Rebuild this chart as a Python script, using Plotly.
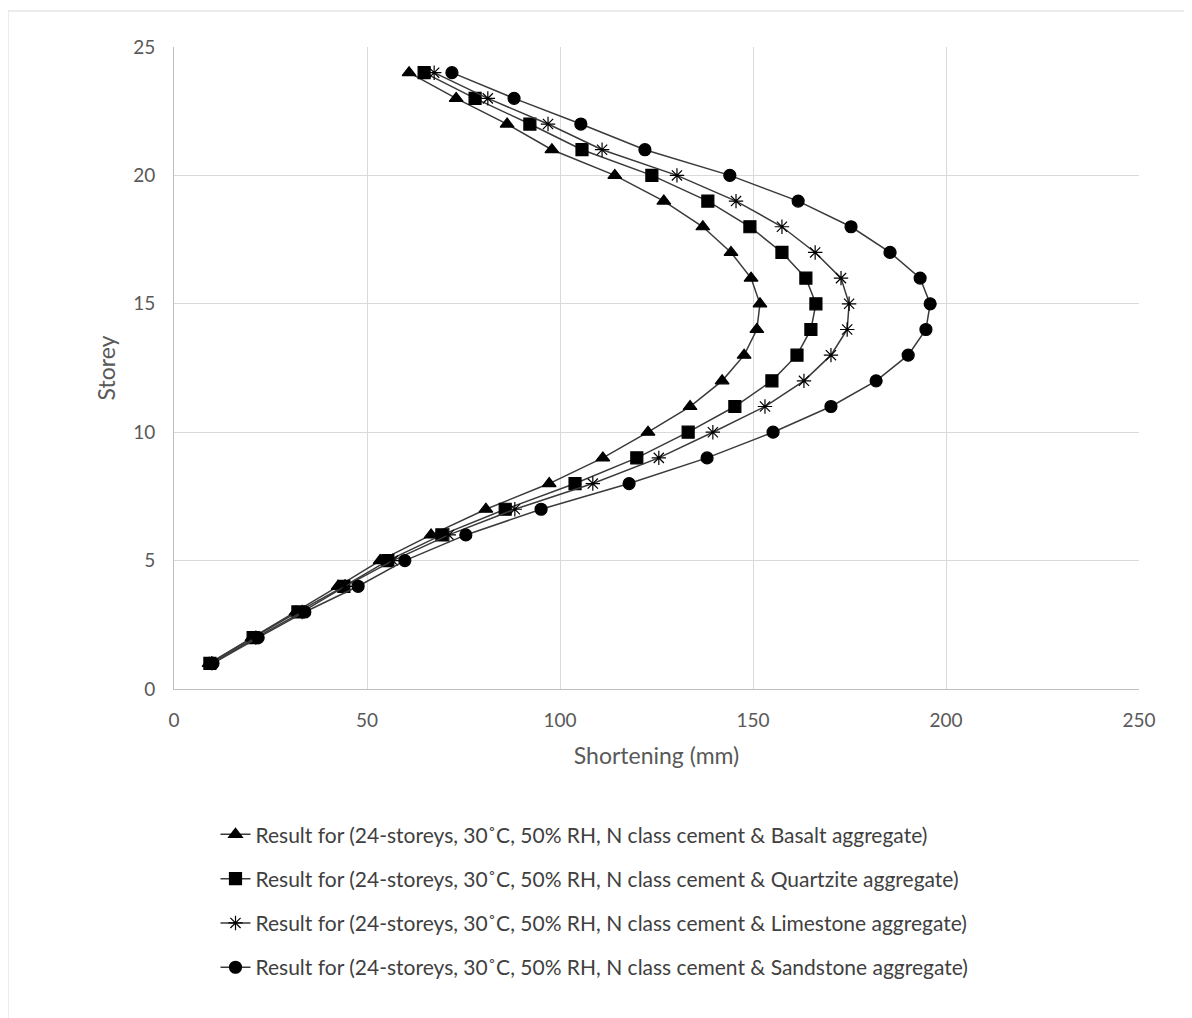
import plotly.graph_objects as go

storey = list(range(1, 25))

basalt = [9.1, 20.2, 31.6, 42.5, 53.4, 66.6, 80.8, 97.2, 111.1, 122.8, 133.7, 142.0,
          147.7, 151.0, 151.8, 149.5, 144.3, 137.0, 126.9, 114.2, 97.9, 86.3, 73.1, 60.9]
quartzite = [9.3, 20.5, 32.1, 44.0, 55.4, 69.4, 85.8, 103.9, 119.9, 133.2, 145.3, 154.9,
             161.4, 165.0, 166.3, 163.7, 157.5, 149.2, 138.3, 123.8, 105.7, 92.2, 78.0, 64.8]
limestone = [9.8, 21.2, 33.2, 44.3, 56.7, 71.2, 88.3, 108.5, 125.6, 139.6, 153.1, 163.2,
             170.2, 174.4, 174.9, 172.8, 166.1, 157.5, 145.6, 130.3, 110.9, 96.9, 81.3, 67.4]
sandstone = [10.1, 21.8, 33.9, 47.7, 59.8, 75.6, 95.1, 117.9, 138.1, 155.2, 170.2, 181.9,
             190.2, 194.8, 195.9, 193.3, 185.5, 175.4, 161.7, 144.0, 122.0, 105.4, 88.1, 72.0]

names = [
    "Result for (24-storeys, 30˚C, 50% RH, N class cement & Basalt aggregate)",
    "Result for (24-storeys, 30˚C, 50% RH, N class cement & Quartzite aggregate)",
    "Result for (24-storeys, 30˚C, 50% RH, N class cement & Limestone aggregate)",
    "Result for (24-storeys, 30˚C, 50% RH, N class cement & Sandstone aggregate)",
]
series = [basalt, quartzite, limestone, sandstone]
symbols = ["triangle-up", "square", "asterisk-open", "circle"]
sizes = [12, 12, 12, 12]

FONT = "Lato, Liberation Sans, sans-serif"

# page offset of the plot (body margin of 8px)
L, T, W, H = 166, 39, 1192, 1018
PL, PT, PR, PB = 174, 47, 1139, 689  # desired page pixels of plot area
pw, ph = PR - PL, PB - PT

fig = go.Figure()
for i, (nm, xs, sym, sz) in enumerate(zip(names, series, symbols, sizes)):
    fig.add_trace(go.Scatter(
        x=xs, y=storey, mode="lines+markers", name=nm,
        legendgroup=f"g{i}",
        line=dict(color="#3a3a3a", width=1.5),
        marker=dict(symbol=sym, size=sz, color="black",
                    line=dict(color="black", width=1.2)),
    ))

fig.update_layout(
    width=W, height=H,
    paper_bgcolor="white", plot_bgcolor="white",
    margin=dict(l=L, r=W - L - pw, t=T, b=H - T - ph),
    font=dict(family=FONT, size=19, color="#595959"),
    xaxis=dict(range=[0, 250], dtick=50, showgrid=True, gridcolor="#d9d9d9",
               gridwidth=1, showline=True, linecolor="#bfbfbf", zeroline=False,
               ticks="", ticklabelstandoff=14, tickfont=dict(size=19, color="#595959"),
               title=dict(text="Shortening (mm)", font=dict(size=23, color="#595959"), standoff=18)),
    yaxis=dict(range=[0, 25], dtick=5, showgrid=True, gridcolor="#d9d9d9",
               gridwidth=1, showline=True, linecolor="#bfbfbf", zeroline=False,
               ticks="", ticklabelstandoff=14, tickfont=dict(size=19, color="#595959"),
               title=dict(text="Storey", font=dict(size=23, color="#595959"), standoff=11)),
    legend=dict(x=0.043, y=-0.195, xanchor="left", yanchor="top",
                font=dict(size=21, color="#404040", family=FONT),
                tracegroupgap=14, bgcolor="rgba(0,0,0,0)"),
    showlegend=True,
)

# outer chart border
fig.add_shape(type="rect", xref="paper", yref="paper",
              x0=(8 - PL) / pw, x1=(1210 - PL) / pw,
              y0=(PB - 1040) / ph, y1=(PB - 11) / ph,
              line=dict(color="#d9d9d9", width=1), fillcolor="rgba(0,0,0,0)", layer="below")

fig.write_html("out.html")
